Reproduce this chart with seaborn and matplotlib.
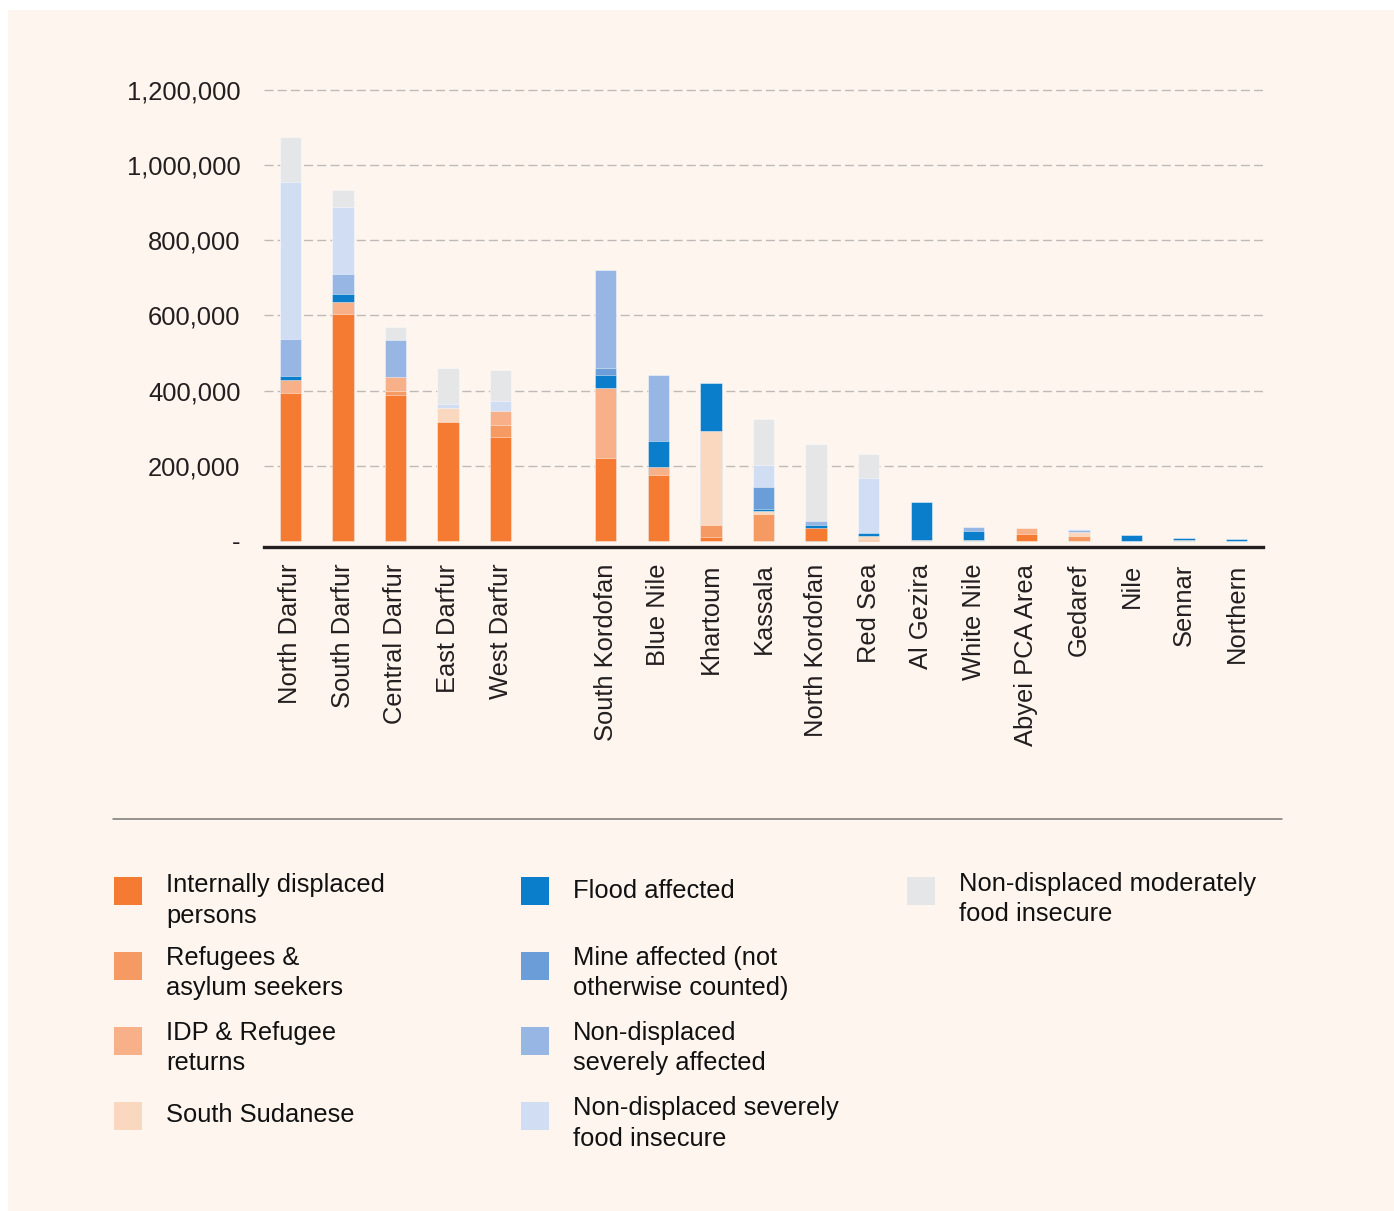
import numpy as np
import pandas as pd
import matplotlib
matplotlib.use("Agg")
import matplotlib.pyplot as plt
import seaborn as sns
from matplotlib.patches import Rectangle
from matplotlib.lines import Line2D
from matplotlib.ticker import FuncFormatter, FixedLocator

# ---------------- data ----------------
regions = ["North Darfur", "South Darfur", "Central Darfur", "East Darfur", "West Darfur",
           "South Kordofan", "Blue Nile", "Khartoum", "Kassala", "North Kordofan", "Red Sea",
           "Al Gezira", "White Nile", "Abyei PCA Area", "Gedaref", "Nile", "Sennar", "Northern"]
gap_after = "West Darfur"

series_names = ["Internally displaced persons", "Refugees & asylum seekers",
                "IDP & Refugee returns", "South Sudanese", "Flood affected",
                "Mine affected (not otherwise counted)", "Non-displaced severely affected",
                "Non-displaced severely food insecure", "Non-displaced moderately food insecure"]

idp        = [394000, 603000, 388000, 317000, 277000, 222000, 176000, 10000, 0, 35000, 3000, 0, 0, 19000, 0, 0, 0, 0]
refugees   = [0, 0, 12000, 0, 31000, 0, 0, 32000, 72000, 0, 0, 0, 0, 0, 12000, 0, 0, 0]
returns    = [34000, 34000, 37000, 0, 37000, 186000, 20000, 0, 0, 0, 0, 0, 0, 16000, 0, 0, 0, 0]
s_sudanese = [0, 0, 0, 37000, 0, 0, 0, 251000, 7000, 0, 10000, 2000, 2000, 0, 13000, 0, 2000, 0]
flood      = [11000, 20000, 0, 0, 0, 34000, 70000, 128000, 7000, 8000, 9000, 102000, 24000, 0, 0, 17000, 5000, 6000]
mine       = [0, 0, 0, 0, 0, 19000, 0, 0, 58000, 0, 0, 0, 0, 0, 0, 0, 0, 0]
sev_aff    = [98000, 53000, 99000, 0, 0, 259000, 177000, 0, 0, 10000, 0, 0, 12000, 0, 3000, 0, 0, 0]
sev_food   = [417000, 178000, 0, 11000, 27000, 0, 0, 0, 58000, 0, 146000, 0, 0, 0, 3000, 0, 0, 0]
mod_food   = [121000, 45000, 33000, 96000, 82000, 0, 0, 0, 123000, 205000, 63000, 0, 0, 0, 0, 0, 0, 0]

series_values = [idp, refugees, returns, s_sudanese, flood, mine, sev_aff, sev_food, mod_food]
series_colors = ["#F57B33", "#F59A63", "#F8B088", "#FAD8C0", "#0A7ECB",
                 "#6B9DD8", "#97B6E3", "#D1DDF3", "#E4E6E8"]

yticks = [0, 200000, 400000, 600000, 800000, 1000000, 1200000]

legend_lines = [
    ["Internally displaced", "persons"],
    ["Refugees &", "asylum seekers"],
    ["IDP & Refugee", "returns"],
    ["South Sudanese"],
    ["Flood affected"],
    ["Mine affected (not", "otherwise counted)"],
    ["Non-displaced", "severely affected"],
    ["Non-displaced severely", "food insecure"],
    ["Non-displaced moderately", "food insecure"],
]

# ---------------- style ----------------
CREAM = "#FEF5EF"
TEXT = "#231F20"
FS = 18.4
sns.set_theme(style="white")
plt.rcParams["font.family"] = ["Liberation Sans", "DejaVu Sans"]

W, H = 1394, 1211
fig = plt.figure(figsize=(W / 100, H / 100), dpi=100, facecolor="white")


def fx(px):
    return px / W


def fy(py):
    return 1 - py / H


fig.add_artist(Rectangle((fx(8), 0), 1 - fx(8), fy(10), transform=fig.transFigure,
                         facecolor=CREAM, edgecolor="none", zorder=-10))

ax = fig.add_axes([fx(264), fy(547), fx(1263) - fx(264), fy(85) - fy(547)])
ax.set_facecolor("none")

gi = regions.index(gap_after) + 1
order = regions[:gi] + [" "] + regions[gi:]

# cumulative stacked bars, drawn from top series down
cum = np.zeros(len(regions))
cums = []
for vals in series_values:
    cum = cum + np.array(vals, dtype=float)
    cums.append(cum.copy())

for k in range(len(series_values) - 1, -1, -1):
    vals = np.array(series_values[k], dtype=float)
    mask = vals > 0
    df = pd.DataFrame({"region": np.array(regions)[mask], "value": cums[k][mask]})
    sns.barplot(data=df, x="region", y="value", order=order, color=series_colors[k],
                saturation=1, width=0.405, errorbar=None, ax=ax,
                edgecolor=(1, 1, 1, 0.45), linewidth=0.7, zorder=2)

ax.set_xlim(-0.5, len(order) - 0.5)
ax.set_ylim(-15965, 1213300)
ax.set_xlabel("")
ax.set_ylabel("")

for t in yticks[1:]:
    ax.axhline(t, color="#BFBAB4", lw=1.0, dashes=(6.5, 3), zorder=0)

ax.yaxis.set_major_locator(FixedLocator(yticks))
ax.yaxis.set_major_formatter(FuncFormatter(lambda v, p: "-" if v == 0 else f"{int(v):,}"))
ax.tick_params(axis="y", length=0, pad=17, labelsize=FS, labelcolor=TEXT)
ax.tick_params(axis="x", length=0, pad=12, labelsize=FS, labelcolor=TEXT, rotation=90)

for s in ["top", "right", "left"]:
    ax.spines[s].set_visible(False)
ax.spines["bottom"].set_color(TEXT)
ax.spines["bottom"].set_linewidth(2.4)

# separator line
fig.add_artist(Line2D([fx(113), fx(1282)], [fy(818.5), fy(818.5)], transform=fig.transFigure,
                      color="#7A7775", lw=1.1))

# ---------------- legend ----------------
col_sq_x = [114, 521, 907]
col_tx_x = [166, 573, 959]
entries = [
    (0, 877, [892, 923]),
    (0, 952, [965, 995]),
    (0, 1027, [1040, 1070]),
    (0, 1102, [1122]),
    (1, 877, [898]),
    (1, 952, [965, 995]),
    (1, 1027, [1040, 1070]),
    (1, 1102, [1115, 1146]),
    (2, 877, [891, 921]),
]
for i, (col, sq_top, baselines) in enumerate(entries):
    fig.add_artist(Rectangle((fx(col_sq_x[col]), fy(sq_top + 28)), fx(28), 28 / H,
                             transform=fig.transFigure, facecolor=series_colors[i],
                             edgecolor="none"))
    for line, b in zip(legend_lines[i], baselines):
        fig.text(fx(col_tx_x[col]), fy(b), line, fontsize=FS, color="#111111",
                 ha="left", va="baseline")

fig.savefig("out.png", dpi=100, facecolor="white")
